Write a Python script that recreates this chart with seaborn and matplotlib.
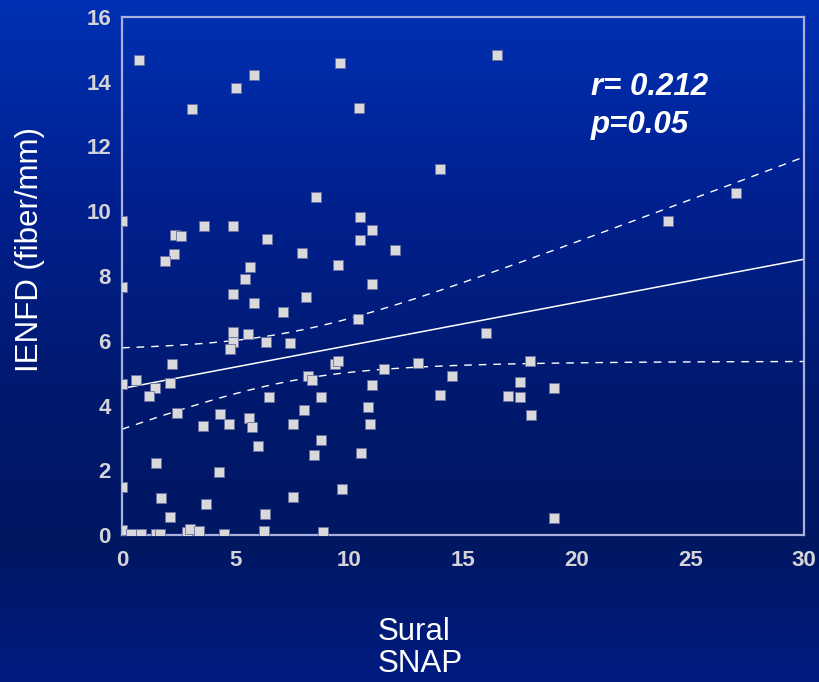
import numpy as np
import pandas as pd
import matplotlib
matplotlib.use("Agg")
import matplotlib.pyplot as plt
from matplotlib.colors import LinearSegmentedColormap
import seaborn as sns

# ---- data ----
sural_snap = [0.73, 16.5, 5.8, 5.0, 3.08, 9.6, 10.43, 14.0, 0.0, 8.53,
              10.45, 11.0, 10.45, 12.0, 2.33, 2.6, 3.62, 4.9, 6.4, 7.9,
              2.27, 1.9, 5.64, 9.5, 24.0, 27.0, 0.0, 5.43, 4.9, 5.8,
              8.1, 11.0, 7.08, 10.4, 4.9, 5.54, 4.9, 4.74, 6.33, 7.4,
              16.03, 9.38, 9.5, 17.95, 11.53, 13.0, 2.2, 0.6, 0.0, 1.45,
              2.1, 1.2, 2.4, 4.3, 3.57, 4.7, 5.6, 5.7, 6.0, 6.45,
              7.5, 8.0, 8.74, 8.74, 8.43, 8.2, 8.37, 1.48, 4.25, 0.0,
              1.73, 3.7, 2.1, 7.5, 6.28, 9.67, 0.0, 0.4, 0.82, 1.5,
              1.65, 2.85, 3.0, 3.4, 4.5, 6.23, 8.86, 19.0, 19.0, 18.0,
              17.5, 17.5, 17.0, 14.53, 14.0, 11.0, 10.8, 10.9, 10.5]
ienfd = [14.66, 14.83, 14.2, 13.82, 13.16, 14.59, 13.2, 11.3, 9.7, 10.43,
         9.82, 9.42, 9.11, 8.8, 9.27, 9.23, 9.54, 9.54, 9.14, 8.72,
         8.68, 8.45, 8.29, 8.33, 9.7, 10.55, 7.67, 7.9, 7.44, 7.17,
         7.36, 7.75, 6.9, 6.66, 6.27, 6.2, 5.97, 5.74, 5.97, 5.93,
         6.23, 5.27, 5.38, 5.38, 5.14, 5.3, 5.28, 4.79, 4.66, 4.54,
         4.68, 4.29, 3.78, 3.75, 3.36, 3.44, 3.62, 3.33, 2.74, 4.25,
         3.44, 3.86, 4.25, 2.92, 2.47, 4.92, 4.79, 2.23, 1.96, 1.47,
         1.14, 0.96, 0.57, 1.17, 0.64, 1.42, 0.15, 0.03, 0.03, 0.03,
         0.03, 0.1, 0.18, 0.13, 0.03, 0.13, 0.09, 0.52, 4.53, 3.71,
         4.25, 4.72, 4.29, 4.91, 4.32, 4.63, 3.94, 3.44, 2.54]
x_ticks = [0, 5, 10, 15, 20, 25, 30]
y_ticks = [0, 2, 4, 6, 8, 10, 12, 14, 16]
stats_lines = ["r= 0.212", "p=0.05"]

df = pd.DataFrame({"snap": sural_snap, "ienfd": ienfd})

# ---- regression with 95% confidence band of the mean ----
x = df["snap"].to_numpy()
y = df["ienfd"].to_numpy()
n = len(x)
b1, b0 = np.polyfit(x, y, 1)
resid = y - (b0 + b1 * x)
s = np.sqrt(np.sum(resid ** 2) / (n - 2))
sxx = np.sum((x - x.mean()) ** 2)
t_crit = 1.985
xg = np.linspace(0, 30, 200)
yg = b0 + b1 * xg
se = s * np.sqrt(1.0 / n + (xg - x.mean()) ** 2 / sxx)
upper = yg + t_crit * se
lower = yg - t_crit * se

# ---- figure ----
sns.set_theme(style="white")
plt.rcParams["font.family"] = ["Liberation Sans", "DejaVu Sans"]

fig = plt.figure(figsize=(8.19, 6.82), dpi=100)

# gradient background
bg = fig.add_axes([0, 0, 1, 1], zorder=-10)
cmap = LinearSegmentedColormap.from_list(
    "bg", [(0.0, "#0030b4"), (0.3, "#00208e"), (0.6, "#00196c"),
           (0.8, "#001762"), (1.0, "#001c82")])
grad = np.linspace(0, 1, 256).reshape(-1, 1)
bg.imshow(grad, aspect="auto", cmap=cmap, extent=[0, 1, 1, 0])
bg.set_axis_off()

ax = fig.add_axes([122 / 819, 1 - 535 / 682, (804 - 122) / 819, (535 - 17) / 682])
ax.patch.set_alpha(0)

sns.scatterplot(data=df, x="snap", y="ienfd", ax=ax, marker="s", s=48,
                color="#d9d9dc", edgecolor="#6a70a0", linewidth=0.6,
                zorder=3, clip_on=True)

ax.plot(xg, yg, color="white", lw=1.1, zorder=2)
ax.plot(xg, upper, color="white", lw=1.0, ls=(0, (5.5, 5)), zorder=2)
ax.plot(xg, lower, color="white", lw=1.0, ls=(0, (5.5, 5)), zorder=2)

ax.set_xlim(0, 30)
ax.set_ylim(0, 16)
ax.set_xticks(x_ticks)
ax.set_yticks(y_ticks)
ax.set_xticklabels([str(v) for v in x_ticks])
ax.set_yticklabels([str(v) for v in y_ticks])
ax.tick_params(axis="both", length=0, labelsize=16, labelcolor="#d4d4d8")
ax.tick_params(axis="x", pad=11)
ax.tick_params(axis="y", pad=8)
for lab in ax.get_xticklabels() + ax.get_yticklabels():
    lab.set_fontweight("bold")
for sp in ax.spines.values():
    sp.set_visible(True)
    sp.set_color("#a8b0dc")
    sp.set_linewidth(1.6)
ax.grid(False)
ax.set_xlabel("")
ax.set_ylabel("")

fig.text(30 / 819, 1 - 250 / 682, "IENFD (fiber/mm)", rotation=90,
         ha="center", va="center", color="white", fontsize=22.5)
fig.text(378 / 819, 1 - 648 / 682, "Sural\nSNAP", ha="left", va="center",
         color="white", fontsize=22.5, linespacing=1.05)
for line, base_y in zip(stats_lines, [95, 133]):
    fig.text(591 / 819, 1 - base_y / 682, line, ha="left", va="baseline",
             color="white", fontsize=22.5, fontweight="bold",
             fontstyle="italic")

fig.savefig("out.png", dpi=100)
